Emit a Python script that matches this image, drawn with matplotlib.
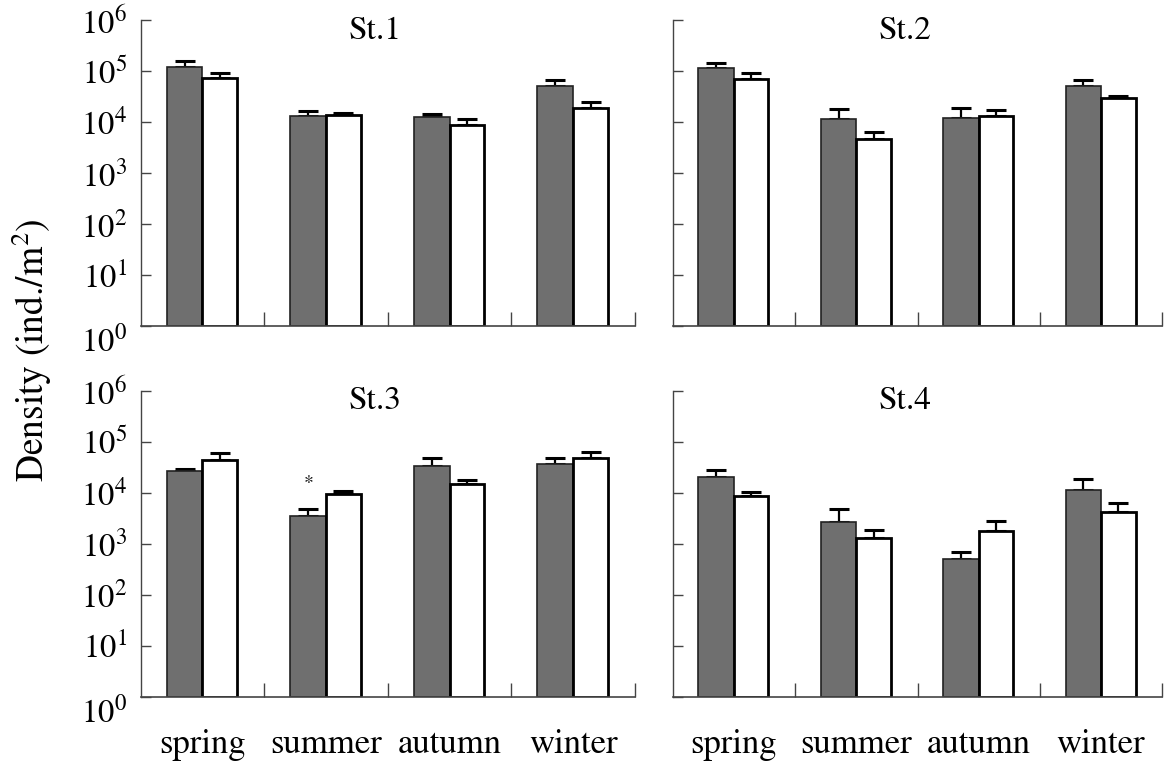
import numpy as np
import matplotlib
matplotlib.use("Agg")
import matplotlib.pyplot as plt

# -----------------------------------------------------------------
# Data
# -----------------------------------------------------------------
seasons = ["spring", "summer", "autumn", "winter"]
stations = ["St.1", "St.2", "St.3", "St.4"]

# grey bars: mean and upper error
grey_mean = [
    [1.20e5, 1.30e4, 1.24e4, 5.10e4],
    [1.17e5, 1.17e4, 1.18e4, 5.00e4],
    [2.70e4, 3.50e3, 3.40e4, 3.70e4],
    [2.04e4, 2.70e3, 5.10e2, 1.15e4],
]
grey_err = [
    [4.0e4, 3.5e3, 2.0e3, 1.5e4],
    [2.8e4, 6.3e3, 6.8e3, 1.8e4],
    [2.0e3, 1.3e3, 1.4e4, 1.1e4],
    [7.2e3, 2.1e3, 1.8e2, 7.5e3],
]

# white bars: mean and upper error
white_mean = [
    [7.20e4, 1.37e4, 8.90e3, 1.90e4],
    [6.90e4, 4.60e3, 1.30e4, 2.90e4],
    [4.30e4, 9.40e3, 1.50e4, 4.90e4],
    [8.70e3, 1.30e3, 1.80e3, 4.30e3],
]
white_err = [
    [1.9e4, 1.3e3, 2.6e3, 5.6e3],
    [2.4e4, 1.9e3, 4.0e3, 3.0e3],
    [1.7e4, 1.5e3, 3.0e3, 1.5e4],
    [1.5e3, 5.7e2, 1.0e3, 2.0e3],
]

# significance marks: (station index, season index, y position)
stars = [(2, 1, 1.55e4)]

# -----------------------------------------------------------------
# Style
# -----------------------------------------------------------------
plt.rcParams["font.family"] = ["STIXGeneral", "DejaVu Serif"]
plt.rcParams["mathtext.fontset"] = "stix"

fig = plt.figure(figsize = (11.68, 7.69), dpi = 100)

W, H = 1168, 769
# pixel boxes of each panel: (left, top, right, bottom)
boxes = [(140.7, 20.0, 635.0, 326.3),
         (672.7, 20.0, 1162.3, 326.3),
         (140.7, 390.7, 635.0, 697.0),
         (672.7, 390.7, 1162.3, 697.0)]

bw = 0.29
x = np.arange(len(seasons)) + 0.5
grey_col = "#6f6f6f"

for k, (l, t, r, b) in enumerate(boxes):
    ax = fig.add_axes([l / W, 1 - b / H, (r - l) / W, (b - t) / H])

    ax.bar(x - bw, grey_mean[k], width = bw, align = "edge", bottom = 1,
           color = grey_col, edgecolor = "#222222", linewidth = 1.2, zorder = 2)
    ax.bar(x, white_mean[k], width = bw * 0.97, align = "edge", bottom = 1,
           color = "white", edgecolor = "black", linewidth = 2.0, zorder = 2)

    zeros = np.zeros(len(seasons))
    ax.errorbar(x - bw / 2, grey_mean[k], yerr = [zeros, grey_err[k]],
                fmt = "none", ecolor = "black", elinewidth = 1.6,
                capsize = 7.5, capthick = 2.2, zorder = 1)
    ax.errorbar(x + bw * 0.97 / 2, white_mean[k], yerr = [zeros, white_err[k]],
                fmt = "none", ecolor = "black", elinewidth = 1.6,
                capsize = 7.5, capthick = 2.2, zorder = 1)

    for si, ci, yv in stars:
        if si == k:
            ax.text(x[ci] - bw / 2, yv, "*", ha = "center", va = "center",
                    fontsize = 14)

    ax.set_yscale("log")
    ax.set_ylim(1, 1e6)
    ax.set_xlim(0, 4)

    # y ticks
    ax.set_yticks([10.0 ** e for e in range(7)])
    ax.yaxis.set_minor_locator(matplotlib.ticker.NullLocator())
    ax.tick_params(axis = "y", which = "major", direction = "in", length = 7,
                   width = 1, color = "#444444", pad = 10)
    if k % 2 == 0:
        ax.set_yticklabels([f"$10^{{{e}}}$" for e in range(7)], fontsize = 23.5)
        lab0 = ax.get_yticklabels()[0]
        lab0.set_verticalalignment("top")
    else:
        ax.set_yticklabels([])

    # x ticks: boundaries (major) and labels (minor)
    ax.set_xticks([1, 2, 3, 4])
    ax.set_xticklabels([])
    ax.set_xticks(x, minor = True)
    ax.tick_params(axis = "x", which = "major", direction = "in", length = 10,
                   width = 1, color = "#444444")
    ax.tick_params(axis = "x", which = "minor", length = 0, pad = 23)
    if k >= 2:
        ax.set_xticklabels(seasons, minor = True, fontsize = 25)

    for s in ("top", "right"):
        ax.spines[s].set_visible(False)
    ax.spines["left"].set_color("#444444")
    ax.spines["bottom"].set_color("#444444")
    ax.spines["left"].set_linewidth(1.0)
    ax.spines["bottom"].set_linewidth(1.2)

    ax.text(0.474, 1 - 11 / (b - t), stations[k], transform = ax.transAxes,
            ha = "center", va = "center", fontsize = 24)

fig.text(32 / W, 1 - 350 / H, "Density (ind./m$^2$)", rotation = 90,
         ha = "center", va = "center", fontsize = 27)

fig.savefig("out.png", dpi = 100)
